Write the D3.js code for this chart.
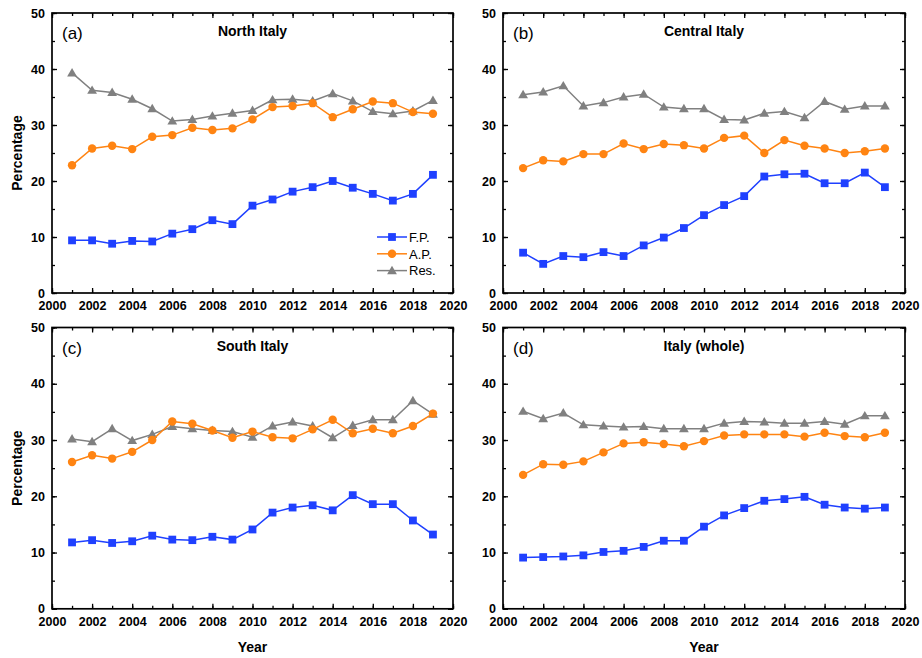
<!DOCTYPE html>
<html>
<head>
<meta charset="utf-8">
<script src="https://cdn.jsdelivr.net/npm/d3@7"></script>
<style>
  body { margin: 0; background: #fff; }
  text { font-family: "Liberation Sans", Arial, sans-serif; }
</style>
</head>
<body>
<svg id="chart" width="922" height="658"></svg>
<script>
// ---- data ----
const years = d3.range(2001, 2020);
const xTicks = d3.range(2000, 2021, 2);
const yTicks = [0, 10, 20, 30, 40, 50];
const panelTitles = ["North Italy", "Central Italy", "South Italy", "Italy (whole)"];
const panelTags = ["(a)", "(b)", "(c)", "(d)"];
const seriesNames = ["F.P.", "A.P.", "Res."];

const northFP  = [9.4, 9.4, 8.8, 9.3, 9.2, 10.6, 11.4, 13.0, 12.3, 15.6, 16.7, 18.1, 18.9, 20.0, 18.8, 17.7, 16.5, 17.7, 21.1];
const northAP  = [22.8, 25.8, 26.3, 25.7, 27.9, 28.2, 29.5, 29.1, 29.4, 31.0, 33.2, 33.4, 33.9, 31.4, 32.8, 34.2, 33.9, 32.3, 32.0];
const northRes = [39.3, 36.2, 35.8, 34.6, 32.9, 30.7, 31.0, 31.6, 32.1, 32.6, 34.5, 34.6, 34.3, 35.6, 34.3, 32.4, 32.0, 32.5, 34.4];

const centralFP  = [7.2, 5.2, 6.6, 6.4, 7.3, 6.6, 8.5, 9.9, 11.6, 13.9, 15.7, 17.3, 20.8, 21.2, 21.3, 19.6, 19.6, 21.5, 18.9];
const centralAP  = [22.3, 23.7, 23.5, 24.8, 24.8, 26.7, 25.7, 26.6, 26.4, 25.8, 27.7, 28.1, 25.0, 27.3, 26.3, 25.8, 25.0, 25.3, 25.8];
const centralRes = [35.4, 35.9, 37.0, 33.4, 34.0, 35.0, 35.5, 33.2, 32.9, 32.9, 31.0, 30.9, 32.1, 32.4, 31.3, 34.2, 32.8, 33.4, 33.4];

const southFP  = [11.8, 12.2, 11.7, 12.0, 13.0, 12.3, 12.2, 12.8, 12.3, 14.1, 17.1, 18.0, 18.4, 17.5, 20.2, 18.6, 18.6, 15.7, 13.2];
const southAP  = [26.1, 27.3, 26.7, 27.9, 30.0, 33.3, 32.9, 31.7, 30.4, 31.5, 30.5, 30.3, 31.9, 33.6, 31.2, 32.0, 31.2, 32.5, 34.7];
const southRes = [30.2, 29.7, 32.0, 29.9, 31.0, 32.4, 32.0, 31.7, 31.5, 30.5, 32.5, 33.2, 32.5, 30.4, 32.6, 33.6, 33.6, 37.0, 34.6];

const italyFP  = [9.1, 9.2, 9.3, 9.5, 10.1, 10.3, 11.0, 12.1, 12.1, 14.6, 16.6, 17.9, 19.2, 19.5, 19.9, 18.5, 18.0, 17.8, 18.0];
const italyAP  = [23.8, 25.7, 25.6, 26.2, 27.8, 29.4, 29.6, 29.3, 28.9, 29.8, 30.8, 31.0, 31.0, 31.0, 30.6, 31.3, 30.7, 30.5, 31.3];
const italyRes = [35.1, 33.8, 34.8, 32.7, 32.5, 32.3, 32.4, 32.0, 32.0, 32.0, 33.0, 33.3, 33.2, 33.0, 33.0, 33.3, 32.8, 34.3, 34.3];

const panelData = [
  [northFP, northAP, northRes],
  [centralFP, centralAP, centralRes],
  [southFP, southAP, southRes],
  [italyFP, italyAP, italyRes]
];

// ---- styling / layout ----
const colors = ["#1f40ff", "#ff8412", "#808080"];
const frames = [
  { left: 52,  right: 453, top: 13,    bottom: 293 },
  { left: 503, right: 905, top: 13,    bottom: 293 },
  { left: 52,  right: 453, top: 327.5, bottom: 608.8 },
  { left: 503, right: 905, top: 327.5, bottom: 608.8 }
];

const svg = d3.select("#chart");

function marker(g, type, color, cx, cy) {
  if (type === 0) {
    g.append("rect").attr("x", cx - 3.9).attr("y", cy - 3.9)
      .attr("width", 7.8).attr("height", 7.8).attr("fill", color);
  } else if (type === 1) {
    g.append("circle").attr("cx", cx).attr("cy", cy).attr("r", 4.2).attr("fill", color);
  } else {
    const s = 4.9;
    g.append("path")
      .attr("d", `M${cx},${cy - s}L${cx + s},${cy + s * 0.72}L${cx - s},${cy + s * 0.72}Z`)
      .attr("fill", color);
  }
}

frames.forEach((f, i) => {
  const g = svg.append("g");
  const x = d3.scaleLinear().domain([2000, 2020]).range([f.left, f.right]);
  const y = d3.scaleLinear().domain([0, 50]).range([f.bottom, f.top]);

  // minor ticks on all four sides (inward)
  const minorX = d3.range(2000, 2021, 1);
  const minorY = d3.range(0, 51, 5);
  g.append("g").attr("transform", `translate(0,${f.bottom})`)
    .call(d3.axisBottom(x).tickValues(minorX).tickSize(-3).tickFormat(""));
  g.append("g").attr("transform", `translate(0,${f.top})`)
    .call(d3.axisTop(x).tickValues(minorX).tickSize(-3).tickFormat(""));
  g.append("g").attr("transform", `translate(${f.left},0)`)
    .call(d3.axisLeft(y).tickValues(minorY).tickSize(-3).tickFormat(""));
  g.append("g").attr("transform", `translate(${f.right},0)`)
    .call(d3.axisRight(y).tickValues(minorY).tickSize(-3).tickFormat(""));

  // major ticks + labels
  const xa = g.append("g").attr("transform", `translate(0,${f.bottom})`)
    .call(d3.axisBottom(x).tickValues(xTicks).tickSize(-5).tickPadding(8).tickFormat(d3.format("d")));
  const ya = g.append("g").attr("transform", `translate(${f.left},0)`)
    .call(d3.axisLeft(y).tickValues(yTicks).tickSize(-5).tickPadding(7));
  g.append("g").attr("transform", `translate(0,${f.top})`)
    .call(d3.axisTop(x).tickValues(xTicks).tickSize(-5).tickFormat(""));
  g.append("g").attr("transform", `translate(${f.right},0)`)
    .call(d3.axisRight(y).tickValues(yTicks).tickSize(-5).tickFormat(""));

  g.selectAll(".domain").remove();
  g.selectAll(".tick line").attr("stroke", "#000").attr("stroke-width", 1.3);
  [xa, ya].forEach(a => a.selectAll("text")
    .attr("fill", "#000").style("font-size", "12.5px").style("font-weight", "bold")
    .style("font-family", '"Liberation Sans", Arial, sans-serif'));

  // frame
  g.append("rect").attr("x", f.left).attr("y", f.top)
    .attr("width", f.right - f.left).attr("height", f.bottom - f.top)
    .attr("fill", "none").attr("stroke", "#000").attr("stroke-width", 1.7);

  // series (drawn Res first, so A.P. and F.P. sit on top)
  const line = d3.line().x((d, k) => x(years[k])).y(d => y(d));
  [2, 1, 0].forEach(s => {
    const vals = panelData[i][s];
    g.append("path").datum(vals).attr("d", line)
      .attr("fill", "none").attr("stroke", colors[s]).attr("stroke-width", 1.5);
    const mg = g.append("g");
    vals.forEach((v, k) => marker(mg, s, colors[s], x(years[k]), y(v)));
  });

  // tag and title
  g.append("text").attr("x", f.left + 10).attr("y", f.top + 26)
    .style("font-size", "17px").text(panelTags[i]);
  g.append("text").attr("x", (f.left + f.right) / 2).attr("y", f.top + 23)
    .attr("text-anchor", "middle").style("font-size", "14px").style("font-weight", "bold")
    .text(panelTitles[i]);

  // axis titles
  if (i % 2 === 0) {
    const cy = (f.top + f.bottom) / 2;
    g.append("text").attr("transform", `translate(22,${cy}) rotate(-90)`)
      .attr("text-anchor", "middle").style("font-size", "14px").style("font-weight", "bold")
      .text("Percentage");
  }
  if (i >= 2) {
    g.append("text").attr("x", (f.left + f.right) / 2).attr("y", f.bottom + 43)
      .attr("text-anchor", "middle").style("font-size", "14px").style("font-weight", "bold")
      .text("Year");
  }

  // legend in the first panel
  if (i === 0) {
    const lg = g.append("g");
    seriesNames.forEach((name, s) => {
      const ly = 237 + s * 16.8;
      lg.append("line").attr("x1", 377).attr("x2", 407).attr("y1", ly).attr("y2", ly)
        .attr("stroke", colors[s]).attr("stroke-width", 1.5);
      marker(lg, s, colors[s], 392, ly);
      lg.append("text").attr("x", 409).attr("y", ly + 4.7)
        .style("font-size", "13px").text(name);
    });
  }
});
</script>
</body>
</html>
